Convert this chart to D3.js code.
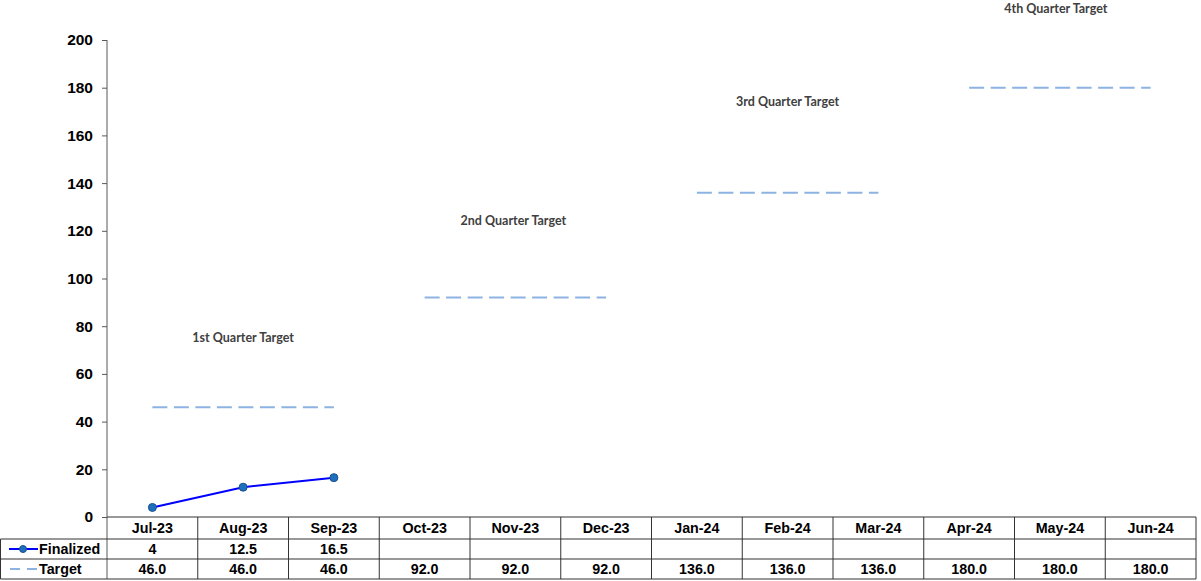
<!DOCTYPE html>
<html>
<head>
<meta charset="utf-8">
<script src="https://cdnjs.cloudflare.com/ajax/libs/d3/7.8.5/d3.min.js"></script>
<style>
  body { margin: 0; background: #fff; }
  svg { display: block; }
  .tbl { font-family: Arial, "Liberation Sans", sans-serif; font-weight: bold; font-size: 14.3px; fill: #000; }
  .ytk { font-family: Arial, "Liberation Sans", sans-serif; font-weight: bold; font-size: 15.5px; fill: #000; }
  .qlbl { font-family: Lato, "Open Sans", sans-serif; font-weight: bold; font-size: 12.5px; fill: #404040; }
</style>
</head>
<body>
<svg width="1201" height="581"></svg>
<script>
var months = ['Jul-23', 'Aug-23', 'Sep-23', 'Oct-23', 'Nov-23', 'Dec-23', 'Jan-24', 'Feb-24', 'Mar-24', 'Apr-24', 'May-24', 'Jun-24'];
var finalized = [4, 12.5, 16.5, null, null, null, null, null, null, null, null, null];
var target = [46, 46, 46, 92, 92, 92, 136, 136, 136, 180, 180, 180];
var quarterLabels = ['1st Quarter Target', '2nd Quarter Target', '3rd Quarter Target', '4th Quarter Target'];
var quarterLabelValues = [75, 124, 174, 213];
var yTicks = [0, 20, 40, 60, 80, 100, 120, 140, 160, 180, 200];

var svg = d3.select('svg');
var pLeft = 107, pRight = 1196, pTop = 40, pBottom = 517;
var rowY = [517, 539, 559, 579];

var x = d3.scaleBand().domain(months).range([pLeft, pRight]);
var y = d3.scaleLinear().domain([0, 200]).range([pBottom, pTop]);
var cx = function(m) { return x(m) + x.bandwidth() / 2; };

// y axis
var yAxis = svg.append('g')
    .attr('transform', 'translate(' + pLeft + ',0)')
    .call(d3.axisLeft(y).tickValues(yTicks).tickSize(5).tickSizeOuter(0).tickPadding(9));
yAxis.select('.domain').attr('stroke', '#595959').attr('d', 'M0,' + pTop + 'V' + rowY[3]);
yAxis.selectAll('.tick line').attr('stroke', '#595959');
yAxis.selectAll('.tick text').attr('class', 'ytk').attr('font-size', null).attr('font-family', null);

// table grid
var g = svg.append('g');
g.append('line').attr('x1', pLeft).attr('x2', pRight).attr('y1', rowY[0]).attr('y2', rowY[0]).attr('stroke', '#333');
[1, 2, 3].forEach(function(i) {
  g.append('line').attr('x1', 0.5).attr('x2', pRight).attr('y1', rowY[i]).attr('y2', rowY[i]).attr('stroke', '#333');
});
g.append('line').attr('x1', 0.5).attr('x2', 0.5).attr('y1', rowY[1]).attr('y2', rowY[3]).attr('stroke', '#333');
months.forEach(function(m) {
  g.append('line').attr('x1', x(m) + x.bandwidth()).attr('x2', x(m) + x.bandwidth())
    .attr('y1', rowY[0]).attr('y2', rowY[3]).attr('stroke', '#333');
});

// header row
svg.selectAll('text.mon').data(months).enter().append('text')
  .attr('class', 'tbl mon').attr('text-anchor', 'middle')
  .attr('x', function(d) { return cx(d); }).attr('y', 533).text(function(d) { return d; });

// finalized row
svg.selectAll('text.fin').data(months).enter().append('text')
  .attr('class', 'tbl fin').attr('text-anchor', 'middle')
  .attr('x', function(d) { return cx(d); }).attr('y', 554)
  .text(function(d, i) { return finalized[i] == null ? '' : finalized[i]; });

// target row
svg.selectAll('text.tgt').data(months).enter().append('text')
  .attr('class', 'tbl tgt').attr('text-anchor', 'middle')
  .attr('x', function(d) { return cx(d); }).attr('y', 574)
  .text(function(d, i) { return target[i].toFixed(1); });

// legend keys in table
svg.append('line').attr('x1', 9).attr('x2', 38).attr('y1', 549).attr('y2', 549).attr('stroke', '#0000ff').attr('stroke-width', 2);
svg.append('circle').attr('cx', 23).attr('cy', 549).attr('r', 3.5).attr('fill', '#1f6fbf').attr('stroke', '#1a4f8a');
svg.append('text').attr('class', 'tbl').attr('x', 39).attr('y', 554).text('Finalized');
svg.append('line').attr('x1', 10).attr('x2', 38).attr('y1', 569).attr('y2', 569).attr('stroke', '#8db3e2').attr('stroke-width', 2).attr('stroke-dasharray', '10,7');
svg.append('text').attr('class', 'tbl').attr('x', 39).attr('y', 574).text('Target');

// target dashed lines, one per quarter
var tLine = d3.line().x(function(d) { return cx(d.m); }).y(function(d) { return y(d.v); });
for (var q = 0; q < 4; q++) {
  var seg = months.slice(q * 3, q * 3 + 3).map(function(m, j) { return {m: m, v: target[q * 3 + j]}; });
  svg.append('path').datum(seg).attr('d', tLine)
    .attr('fill', 'none').attr('stroke', '#8db3e2').attr('stroke-width', 2).attr('stroke-dasharray', '15,6.5');
  svg.append('text').attr('class', 'qlbl').attr('text-anchor', 'middle')
    .attr('x', cx(months[q * 3 + 1]) - (q == 3 ? 4 : q == 1 ? 2 : 0)).attr('y', y(quarterLabelValues[q]) + 4).text(quarterLabels[q]);
}

// finalized line
var fData = months.map(function(m, i) { return {m: m, v: finalized[i]}; }).filter(function(d) { return d.v != null; });
svg.append('path').datum(fData)
  .attr('d', d3.line().x(function(d) { return cx(d.m); }).y(function(d) { return y(d.v); }))
  .attr('fill', 'none').attr('stroke', '#0000ff').attr('stroke-width', 2);
svg.selectAll('circle.pt').data(fData).enter().append('circle')
  .attr('class', 'pt').attr('cx', function(d) { return cx(d.m); }).attr('cy', function(d) { return y(d.v); })
  .attr('r', 4).attr('fill', '#1f6fbf').attr('stroke', '#1a4f8a').attr('stroke-width', 1);
</script>
</body>
</html>
